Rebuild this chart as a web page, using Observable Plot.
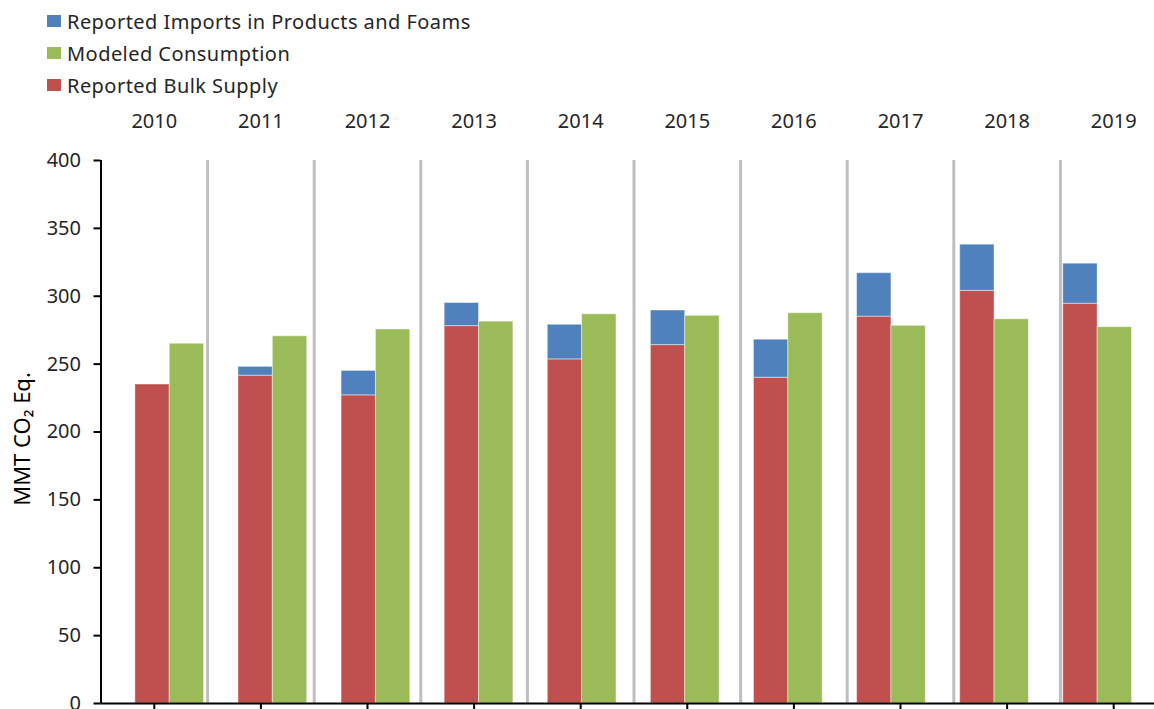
<!DOCTYPE html>
<html>
<head>
<meta charset="utf-8">
<script src="https://cdn.jsdelivr.net/npm/d3@7"></script>
<script src="https://cdn.jsdelivr.net/npm/@observablehq/plot@0.6"></script>
<style>
  html, body { margin: 0; padding: 0; background: #fff; overflow: hidden; }
  #wrap { position: relative; width: 1154px; height: 709px; font-family: "Noto Sans", sans-serif; }
  #legend { position: absolute; left: 47px; top: 5px; color: #262626; font-size: 20px; letter-spacing: 0.45px; }
  .row { display: flex; align-items: center; height: 32px; }
  .sw { width: 14px; height: 12px; margin-right: 6px; }
</style>
</head>
<body>
<div id="wrap">
  <div id="chart"></div>
  <div id="legend"></div>
</div>
<script>
const years = [2010, 2011, 2012, 2013, 2014, 2015, 2016, 2017, 2018, 2019];
const bulkSupply = [235, 241.5, 227, 278, 253.5, 264, 240, 285, 304, 294.5];
const importsProducts = [0, 6.5, 18, 17, 25.5, 25.5, 28, 32, 34, 29.5];
const modeledConsumption = [265, 270.5, 275.5, 281.3, 286.7, 285.6, 287.5, 278.2, 283, 277.2];
const yTicks = [0, 50, 100, 150, 200, 250, 300, 350, 400];

const seriesNames = ["Reported Imports in Products and Foams", "Modeled Consumption", "Reported Bulk Supply"];
const seriesColors = ["#4F81BD", "#9BBB59", "#C0504D"];

// layout: bars sit in a band of 1 unit per year; the year-label axis bands are slightly wider
const labelUnit = 106.6 / 103.1;

const rows = years.map((year, i) => ({
  year, i,
  bulk: bulkSupply[i],
  imports: importsProducts[i],
  modeled: modeledConsumption[i]
}));

const textColor = "#262626";
const fontSize = "20px";

const plot = Plot.plot({
  width: 1154,
  height: 709,
  marginLeft: 100.5,
  marginRight: 22.5,
  marginTop: 160,
  marginBottom: 6,
  style: { fontFamily: "Noto Sans, sans-serif", fontSize, color: textColor, background: "transparent", overflow: "visible" },
  x: { domain: [0, 10], axis: null },
  y: { domain: [0, 400], axis: null },
  marks: [
    // separators between years
    Plot.ruleX(d3.range(1, 10), { x: k => k * labelUnit, y1: 0, y2: 400, stroke: "#bfbfbf", strokeWidth: 3 }),
    // bulk supply (red)
    Plot.rectY(rows, { x1: d => d.i + 1/3, x2: d => d.i + 2/3, y1: 0, y2: "bulk", fill: seriesColors[2], stroke: "#fff", strokeOpacity: 0.45, strokeWidth: 1 }),
    // imports stacked on bulk (blue)
    Plot.rectY(rows.filter(d => d.imports > 0), { x1: d => d.i + 1/3, x2: d => d.i + 2/3, y1: "bulk", y2: d => d.bulk + d.imports, fill: seriesColors[0], stroke: "#fff", strokeOpacity: 0.45, strokeWidth: 1 }),
    // modeled consumption (green)
    Plot.rectY(rows, { x1: d => d.i + 2/3, x2: d => d.i + 1, y1: 0, y2: "modeled", fill: seriesColors[1], stroke: "#fff", strokeOpacity: 0.45, strokeWidth: 1 }),
    // y axis
    Plot.axisY({ ticks: yTicks, tickSize: 7, tickPadding: 13, tickFormat: d => String(d), fontSize, stroke: "#000", strokeWidth: 2, label: null }),
    Plot.ruleX([0], { y1: 0, y2: 400, stroke: "#000", strokeWidth: 2 }),
    // x axis line and ticks
    Plot.ruleY([0], { x1: 0, x2: 10 * labelUnit, stroke: "#000", strokeWidth: 2 }),
    Plot.ruleX(years, { x: (d, i) => (i + 0.5) * labelUnit, y1: 0, y2: -6, stroke: "#000", strokeWidth: 2 }),
    // year labels on top
    Plot.text(years, { x: (d, i) => (i + 0.5) * labelUnit, text: d => String(d), frameAnchor: "top", dy: -39, lineAnchor: "middle", fill: textColor, fontSize }),
    // y label
    Plot.text(["MMT CO\u2082 Eq."], { frameAnchor: "left", dx: -78, dy: 7, rotate: -90, fill: "#000", fontSize: "22px", textAnchor: "middle" })
  ]
});
document.getElementById("chart").appendChild(plot);

const legend = document.getElementById("legend");
seriesNames.forEach((name, k) => {
  const row = document.createElement("div");
  row.className = "row";
  const sw = document.createElement("div");
  sw.className = "sw";
  sw.style.background = seriesColors[k];
  const label = document.createElement("span");
  label.textContent = name;
  row.appendChild(sw);
  row.appendChild(label);
  legend.appendChild(row);
});
</script>
</body>
</html>
